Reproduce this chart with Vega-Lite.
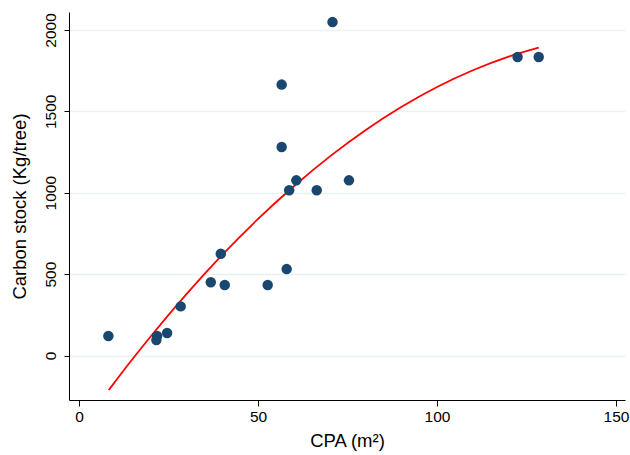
{
  "$schema": "https://vega.github.io/schema/vega-lite/v6.json",
  "width": 556,
  "height": 388,
  "autosize": {"type": "none"},
  "padding": {"left": 69, "top": 12, "right": 5, "bottom": 55},
  "background": "white",
  "config": {"view": {"stroke": null}, "font": "Liberation Sans"},
  "datasets": {
    "pts": [
      {"cpa": 8.2, "carbon": 120},
      {"cpa": 21.8, "carbon": 120},
      {"cpa": 21.6, "carbon": 96},
      {"cpa": 24.6, "carbon": 138},
      {"cpa": 28.4, "carbon": 302},
      {"cpa": 36.8, "carbon": 450},
      {"cpa": 40.7, "carbon": 433},
      {"cpa": 39.6, "carbon": 625},
      {"cpa": 52.7, "carbon": 433},
      {"cpa": 58.0, "carbon": 531},
      {"cpa": 70.8, "carbon": 2048},
      {"cpa": 56.6, "carbon": 1664},
      {"cpa": 122.5, "carbon": 1834},
      {"cpa": 128.4, "carbon": 1834},
      {"cpa": 56.6, "carbon": 1281},
      {"cpa": 60.7, "carbon": 1076},
      {"cpa": 58.7, "carbon": 1015},
      {"cpa": 66.4, "carbon": 1015},
      {"cpa": 75.4, "carbon": 1076}
    ],
    "fit": [
      {"cpa": 8.3, "carbon": -212},
      {"cpa": 15, "carbon": -20},
      {"cpa": 20, "carbon": 117},
      {"cpa": 30, "carbon": 377},
      {"cpa": 40, "carbon": 618},
      {"cpa": 50, "carbon": 839},
      {"cpa": 60, "carbon": 1040},
      {"cpa": 70, "carbon": 1222},
      {"cpa": 80, "carbon": 1384},
      {"cpa": 90, "carbon": 1526},
      {"cpa": 100, "carbon": 1649},
      {"cpa": 110, "carbon": 1752},
      {"cpa": 120, "carbon": 1836},
      {"cpa": 128.4, "carbon": 1891}
    ]
  },
  "encoding": {
    "x": {
      "field": "cpa", "type": "quantitative",
      "scale": {"domain": [-2.8, 152.5], "nice": false, "zero": false},
      "axis": {
        "title": "CPA (m²)", "values": [0, 50, 100, 150], "format": "d",
        "grid": false, "domainColor": "#000000", "tickColor": "#000000",
        "tickSize": 6, "labelFontSize": 15.5, "labelColor": "#000000",
        "labelFont": "Liberation Sans", "titleFont": "Liberation Sans",
        "titleFontSize": 18.5, "titleFontWeight": "normal", "titleColor": "#000000",
        "labelPadding": 3, "titlePadding": 7
      }
    },
    "y": {
      "field": "carbon", "type": "quantitative",
      "scale": {"domain": [-273, 2110], "nice": false, "zero": false},
      "axis": {
        "title": "Carbon stock (Kg/tree)", "values": [0, 500, 1000, 1500, 2000], "format": "d",
        "grid": true, "gridColor": "#eaf2f3", "gridWidth": 1.5,
        "domainColor": "#000000", "tickColor": "#000000", "tickSize": 5,
        "labelAngle": 270, "labelAlign": "center", "labelBaseline": "bottom",
        "labelFontSize": 15.5, "labelColor": "#000000",
        "labelFont": "Liberation Sans", "titleFont": "Liberation Sans",
        "titleFontSize": 18.5, "titleFontWeight": "normal", "titleColor": "#000000",
        "labelPadding": 6, "titlePadding": 14
      }
    }
  },
  "layer": [
    {
      "data": {"name": "fit"},
      "mark": {"type": "line", "color": "#ff0000", "strokeWidth": 1.8, "interpolate": "monotone"}
    },
    {
      "data": {"name": "pts"},
      "mark": {"type": "circle", "color": "#1a476f", "opacity": 1, "size": 110}
    }
  ]
}
